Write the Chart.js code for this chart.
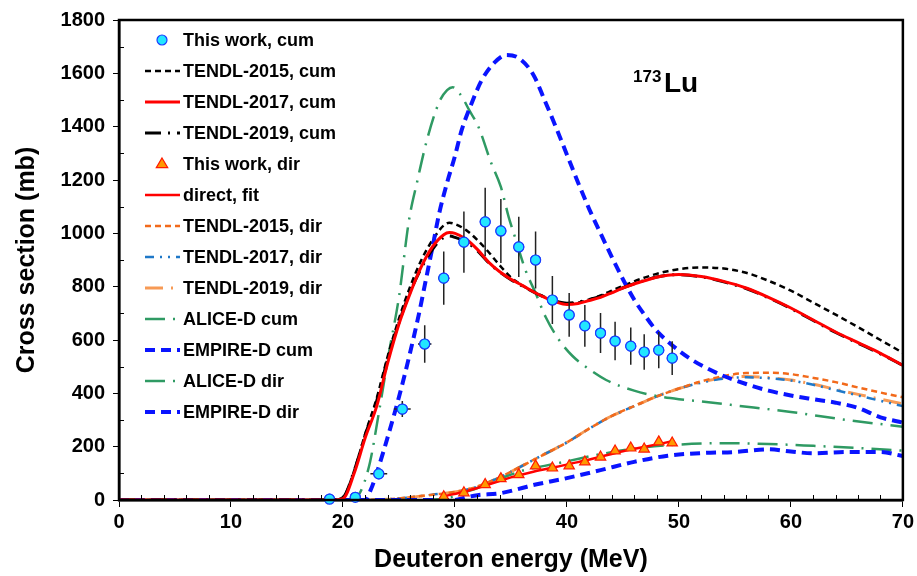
<!DOCTYPE html>
<html>
<head>
<meta charset="utf-8">
<script src="https://cdn.jsdelivr.net/npm/chart.js@4.4.0/dist/chart.umd.min.js"></script>
<style>
  html, body { margin: 0; padding: 0; background: #fff; }
  #wrap { width: 917px; height: 576px; position: relative; }
</style>
</head>
<body>
<div id="wrap"><canvas id="xsChart"></canvas></div>
<script>
// measured points, cumulative 173Lu
const cumE   = [18.8, 21.1, 23.2, 25.3, 27.3, 29.0, 30.8, 32.7, 34.1, 35.7, 37.2, 38.7, 40.2, 41.6, 43.0, 44.3, 45.7, 46.9, 48.2, 49.4];
const cumXS  = [3, 10, 98, 341, 585, 832, 967, 1043, 1009, 949, 900, 750, 694, 653, 626, 596, 577, 555, 562, 532];
const cumErr = [2, 3, 12, 30, 70, 100, 115, 128, 120, 113, 107, 90, 82, 78, 75, 72, 70, 67, 68, 63];
const cumEErr = [0.4, 0.4, 0.75, 0.75, 0.6, 0.5, 0.45, 0.4, 0.4, 0.35, 0.35, 0.35, 0.3, 0.3, 0.3, 0.3, 0.3, 0.3, 0.3, 0.3];

// measured points, direct
const dirE  = [29.0, 30.8, 32.7, 34.1, 35.7, 37.2, 38.7, 40.2, 41.6, 43.0, 44.3, 45.7, 46.9, 48.2, 49.4];
const dirXS = [12, 27, 58, 80, 95, 128, 120, 128, 143, 161, 184, 195, 191, 218, 214];

// fit through the direct points
const fitE  = [29, 31, 33, 35, 37, 39, 41, 43, 45, 47, 49.4];
const fitXS = [14, 33, 58, 85, 106, 124, 142, 162, 183, 200, 220];

// TENDL cumulative
const tendlE = [0, 19, 20, 21, 22, 23, 24, 25, 26, 27, 28, 29, 29.5, 30, 31, 32, 33, 34, 35, 36, 37, 38, 39, 40, 41, 42, 43, 44, 45, 46, 47, 48, 49, 50, 52, 54, 56, 58, 60, 62, 64, 66, 68, 70];
const tendl15Cum = [0, 0, 10, 110, 250, 380, 540, 680, 800, 900, 975, 1030, 1040, 1035, 1012, 975, 930, 880, 835, 805, 782, 762, 745, 737, 740, 752, 767, 785, 803, 820, 835, 848, 858, 866, 872, 868, 852, 822, 785, 740, 695, 648, 600, 552];
const tendl17Cum = [0, 0, 5, 100, 235, 350, 515, 660, 775, 875, 950, 995, 1003, 1000, 978, 940, 892, 856, 828, 805, 781, 760, 743, 733, 737, 748, 760, 777, 795, 810, 823, 835, 843, 846, 838, 820, 795, 760, 720, 675, 630, 590, 550, 505];
const tendl19Cum = [0, 0, 10, 110, 245, 370, 530, 665, 780, 870, 940, 985, 990, 985, 968, 935, 890, 855, 826, 803, 780, 760, 745, 738, 742, 752, 763, 779, 796, 811, 824, 836, 843, 845, 837, 818, 793, 758, 718, 673, 628, 588, 548, 505];

// TENDL direct
const tendlDirE = [0, 22, 24, 26, 28, 30, 32, 34, 36, 38, 40, 42, 44, 46, 48, 50, 52, 54, 56, 58, 60, 62, 64, 66, 68, 70];
const tendl15Dir = [0, 0, 3, 10, 20, 30, 50, 85, 128, 172, 216, 268, 315, 352, 388, 418, 445, 465, 476, 477, 472, 458, 442, 422, 403, 385];
const tendl17Dir = [0, 0, 3, 10, 20, 30, 50, 85, 128, 172, 216, 268, 315, 352, 388, 418, 440, 455, 460, 457, 448, 432, 412, 392, 372, 352];
const tendl19Dir = [0, 0, 3, 10, 20, 30, 50, 85, 128, 172, 216, 268, 315, 352, 388, 418, 442, 458, 463, 459, 450, 434, 415, 396, 378, 360];

// ALICE-D
const aliceCumE  = [0, 20.5, 21.5, 22.4, 23.2, 24.1, 25.0, 25.9, 26.6, 27.5, 28.6, 29.3, 29.8, 30.5, 31.3, 32.1, 33.2, 34.1, 34.8, 35.3, 36.3, 37.2, 38.1, 39.3, 40.5, 41.7, 43.5, 46, 48, 50, 52, 55, 60, 65, 70];
const aliceCumXS = [0, 0, 26, 139, 326, 551, 761, 1050, 1189, 1350, 1493, 1537, 1548, 1520, 1460, 1399, 1268, 1174, 1061, 994, 862, 776, 686, 600, 540, 499, 450, 410, 390, 378, 370, 355, 330, 300, 275];
const aliceDirE  = [0, 27, 29, 30, 31, 32, 33, 34, 35, 36, 38, 40, 43, 47, 50, 54, 58, 62, 66, 70];
const aliceDirXS = [0, 0, 5, 15, 30, 45, 62, 80, 95, 110, 128, 145, 172, 198, 208, 213, 210, 203, 195, 185];

// EMPIRE-D
const empireCumE  = [0, 22, 22.5, 23.1, 24.1, 25.0, 25.9, 26.8, 27.4, 28.0, 28.6, 29.3, 30.0, 30.6, 31.5, 32.4, 33.5, 34.6, 35.7, 37, 38, 39, 40, 41, 42, 43, 44, 45, 46, 47, 48, 49, 50, 51, 52, 54, 56, 58, 60, 62, 64, 66, 68, 70];
const empireCumXS = [0, 0, 40, 112, 251, 386, 536, 701, 825, 949, 1076, 1190, 1290, 1387, 1489, 1575, 1639, 1669, 1657, 1595, 1500, 1400, 1295, 1190, 1090, 1000, 912, 828, 752, 690, 635, 595, 560, 530, 505, 465, 435, 410, 392, 378, 365, 345, 310, 290];
const empireDirE  = [0, 30, 31, 32, 34, 36, 37, 40, 43, 46, 49, 52, 55, 58, 60, 62, 65, 68, 70];
const empireDirXS = [0, 0, 10, 18, 25, 45, 56, 82, 112, 143, 166, 176, 180, 190, 182, 175, 180, 180, 165];

const FONT = '"Liberation Sans", Arial, sans-serif';

function pts(xs, ys) { return xs.map((x, i) => ({ x, y: ys[i] })); }

function curve(label, xs, ys, color, width, dash, order) {
  return {
    label, data: pts(xs, ys), showLine: true, borderColor: color, backgroundColor: color,
    borderWidth: width, borderDash: dash, pointRadius: 0, cubicInterpolationMode: 'monotone', order
  };
}

const datasets = [
  { label: 'This work, cum', data: pts(cumE, cumXS), pointStyle: 'circle', pointRadius: 5, pointBorderWidth: 1.2,
    backgroundColor: '#22e6ff', borderColor: '#1a3cff', showLine: false, order: 0, errY: cumErr, errX: cumEErr },
  curve('TENDL-2015, cum', tendlE, tendl15Cum, '#000000', 2.5, [6, 4], 3),
  curve('TENDL-2017, cum', tendlE, tendl17Cum, '#ff0000', 3, [], 2),
  curve('TENDL-2019, cum', tendlE, tendl19Cum, '#000000', 3, [16, 7, 2, 7], 2),
  { label: 'This work, dir', data: pts(dirE, dirXS), pointStyle: 'triangle', pointRadius: 6, pointBorderWidth: 1.2,
    backgroundColor: '#ff9900', borderColor: '#ff1a00', showLine: false, order: 0 },
  curve('direct, fit', fitE, fitXS, '#ff0000', 2.5, [], 1),
  curve('TENDL-2015, dir', tendlDirE, tendl15Dir, '#f26a1b', 2.5, [6, 4], 4),
  curve('TENDL-2017, dir', tendlDirE, tendl17Dir, '#1f78c8', 2.5, [9, 6, 2, 6, 2, 6], 4),
  curve('TENDL-2019, dir', tendlDirE, tendl19Dir, '#f79a55', 3, [18, 8, 2, 8], 5),
  curve('ALICE-D cum', aliceCumE, aliceCumXS, '#2f9a63', 2.5, [20, 8, 2, 8], 3),
  curve('EMPIRE-D cum', empireCumE, empireCumXS, '#0a14ff', 4, [10, 6], 2),
  curve('ALICE-D dir', aliceDirE, aliceDirXS, '#2f9a63', 2.5, [20, 8, 2, 8], 3),
  curve('EMPIRE-D dir', empireDirE, empireDirXS, '#0a14ff', 4, [10, 6], 2)
];

// vertical and horizontal error bars, markers redrawn over them
const errorBars = {
  id: 'errorBars',
  afterDatasetsDraw(chart) {
    const { ctx, scales: { x, y } } = chart;
    ctx.save();
    ctx.strokeStyle = '#222';
    ctx.lineWidth = 1.5;
    chart.data.datasets.forEach(ds => {
      if (!ds.errY) return;
      ds.data.forEach((p, i) => {
        const px = x.getPixelForValue(p.x), py = y.getPixelForValue(p.y);
        ctx.beginPath();
        ctx.moveTo(px, y.getPixelForValue(p.y - ds.errY[i]));
        ctx.lineTo(px, y.getPixelForValue(p.y + ds.errY[i]));
        ctx.moveTo(x.getPixelForValue(p.x - ds.errX[i]), py);
        ctx.lineTo(x.getPixelForValue(p.x + ds.errX[i]), py);
        ctx.stroke();
      });
    });
    ctx.restore();
    chart.data.datasets.forEach((ds, i) => {
      if (ds.errY) chart.getDatasetMeta(i).data.forEach(el => el.draw(ctx, chart.chartArea));
    });
  }
};

function marker(ctx, style, x, y, r, fill, stroke) {
  ctx.beginPath();
  if (style === 'triangle') {
    ctx.moveTo(x, y - r);
    ctx.lineTo(x + r * 0.95, y + r * 0.6);
    ctx.lineTo(x - r * 0.95, y + r * 0.6);
    ctx.closePath();
  } else {
    ctx.arc(x, y, r, 0, Math.PI * 2);
  }
  ctx.fillStyle = fill; ctx.fill();
  ctx.strokeStyle = stroke; ctx.lineWidth = 1.2; ctx.stroke();
}

// frame, minor ticks, legend and nuclide label
const decorations = {
  id: 'decorations',
  afterDraw(chart) {
    const { ctx, chartArea: a, scales: { x, y } } = chart;
    ctx.save();
    ctx.strokeStyle = '#000';
    ctx.lineWidth = 1;
    ctx.beginPath();
    for (let e = 2; e < 70; e += 2) {
      if (e % 10 === 0) continue;
      const px = Math.round(x.getPixelForValue(e)) + 0.5;
      ctx.moveTo(px, a.bottom); ctx.lineTo(px, a.bottom - 5);
    }
    for (let v = 100; v < 1800; v += 200) {
      const py = Math.round(y.getPixelForValue(v)) + 0.5;
      ctx.moveTo(a.left, py); ctx.lineTo(a.left + 5, py);
    }
    ctx.stroke();
    ctx.lineWidth = 2.5;
    ctx.strokeRect(a.left, a.top, a.right - a.left, a.bottom - a.top);

    // legend
    ctx.font = 'bold 18px ' + FONT;
    ctx.textBaseline = 'middle';
    chart.data.datasets.forEach((ds, i) => {
      const ly = 40 + i * 31;
      if (ds.showLine) {
        ctx.save();
        ctx.strokeStyle = ds.borderColor;
        ctx.lineWidth = ds.borderWidth;
        ctx.setLineDash(ds.borderDash);
        ctx.beginPath(); ctx.moveTo(145, ly); ctx.lineTo(180, ly); ctx.stroke();
        ctx.restore();
      } else {
        marker(ctx, ds.pointStyle, 162, ly, ds.pointRadius, ds.backgroundColor, ds.borderColor);
      }
      ctx.fillStyle = '#000';
      ctx.fillText(ds.label, 183, ly + 1);
    });

    ctx.textBaseline = 'alphabetic';
    ctx.font = 'bold 17px ' + FONT;
    ctx.fillText('173', 633, 82);
    ctx.font = 'bold 28px ' + FONT;
    ctx.fillText('Lu', 664, 92);
    ctx.restore();
  }
};

new Chart(document.getElementById('xsChart'), {
  type: 'scatter',
  data: { datasets },
  options: {
    responsive: true,
    maintainAspectRatio: false,
    animation: false,
    layout: { padding: { top: 20, right: 12, left: 0, bottom: 0 } },
    plugins: { legend: { display: false }, tooltip: { enabled: false } },
    scales: {
      x: {
        type: 'linear', min: 0, max: 70,
        afterFit(scale) { scale.height = 76; },
        ticks: { stepSize: 10, padding: 3, color: '#000', callback: v => String(v),
                 font: { family: FONT, size: 20, weight: 'bold' } },
        grid: { drawOnChartArea: false, drawTicks: true, tickLength: 7, color: '#000', lineWidth: 1 },
        border: { display: true, color: '#000', width: 2.5 },
        title: { display: true, text: 'Deuteron energy (MeV)', color: '#000', padding: { top: 0, bottom: 1 },
                 font: { family: FONT, size: 25, weight: 'bold' } }
      },
      y: {
        min: 0, max: 1800,
        afterFit(scale) { scale.width = 119; },
        ticks: { stepSize: 200, padding: 8, color: '#000', callback: v => String(v),
                 font: { family: FONT, size: 20, weight: 'bold' } },
        grid: { drawOnChartArea: false, drawTicks: true, tickLength: 6, color: '#000', lineWidth: 1 },
        border: { display: true, color: '#000', width: 2.5 },
        title: { display: true, text: 'Cross section (mb)', color: '#000', padding: { top: 12, bottom: 0 },
                 font: { family: FONT, size: 25, weight: 'bold' } }
      }
    }
  },
  plugins: [errorBars, decorations]
});
</script>
</body>
</html>
